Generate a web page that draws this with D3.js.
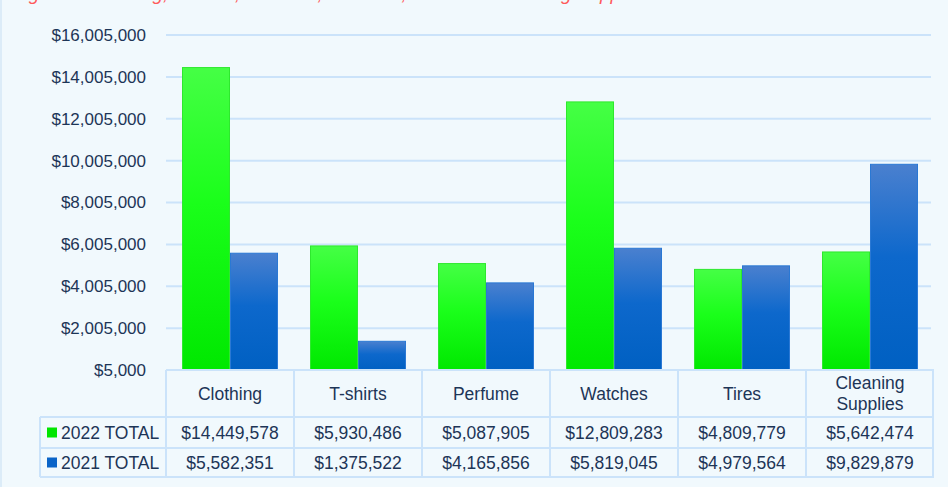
<!DOCTYPE html>
<html>
<head>
<meta charset="utf-8">
<script src="https://cdn.jsdelivr.net/npm/d3@7/dist/d3.min.js"></script>
<style>
  html, body { margin: 0; padding: 0; background: #f1f9fd; }
  svg { display: block; font-family: "Liberation Sans", Arial, sans-serif; }
</style>
</head>
<body>
<svg id="chart" width="948" height="487"></svg>
<script>
const categories = ["Clothing", "T-shirts", "Perfume", "Watches", "Tires", "Cleaning Supplies"];
const categoryLines = [["Clothing"], ["T-shirts"], ["Perfume"], ["Watches"], ["Tires"], ["Cleaning", "Supplies"]];
const seriesNames = ["2022 TOTAL", "2021 TOTAL"];
const values2022 = [14449578, 5930486, 5087905, 12809283, 4809779, 5642474];
const values2021 = [5582351, 1375522, 4165856, 5819045, 4979564, 9829879];
const tickValues = [5000, 2005000, 4005000, 6005000, 8005000, 10005000, 12005000, 14005000, 16005000];
const titleText = "Figure 1: Clothing, T-shirts, Perfume, Watches, Tires and Cleaning Supplies from 2022";

const svg = d3.select("#chart");
const W = 948, H = 487;
const plotTop = 35, plotBottom = 370, plotLeft = 166, plotRight = 934;
const textColor = "#1d3557";
const lineColor = "#cbe3fa";
const fs = 17.5;

svg.append("rect").attr("x", 0).attr("y", 0).attr("width", W).attr("height", H).attr("fill", "#f1f9fd");
svg.append("line").attr("x1", 1).attr("x2", 1).attr("y1", 0).attr("y2", H)
  .attr("stroke", "#dcecf8").attr("stroke-width", 2);

// title, clipped at the top edge as in the reference
svg.append("text").attr("x", 13).attr("y", 0)
  .attr("font-size", 19).attr("font-style", "italic").attr("fill", "#ff5a5a")
  .text(titleText);

const defs = svg.append("defs");
const g1 = defs.append("linearGradient").attr("id", "gGreen").attr("x1", 0).attr("x2", 0).attr("y1", 0).attr("y2", 1);
g1.append("stop").attr("offset", "0%").attr("stop-color", "#45ff45");
g1.append("stop").attr("offset", "45%").attr("stop-color", "#1aff1a");
g1.append("stop").attr("offset", "100%").attr("stop-color", "#00e800");
const g2 = defs.append("linearGradient").attr("id", "gBlue").attr("x1", 0).attr("x2", 0).attr("y1", 0).attr("y2", 1);
g2.append("stop").attr("offset", "0%").attr("stop-color", "#4a80cf");
g2.append("stop").attr("offset", "45%").attr("stop-color", "#0d68cc");
g2.append("stop").attr("offset", "100%").attr("stop-color", "#0060c2");

const y = d3.scaleLinear().domain([5000, 16005000]).range([plotBottom, plotTop]);
const x = d3.scaleBand().domain(categories).range([plotLeft, plotRight]).paddingInner(0).paddingOuter(0);
const xs = d3.scaleBand().domain(seriesNames).range([0, x.bandwidth()]).paddingInner(0).paddingOuter(1/3);

svg.append("g").selectAll("line").data(tickValues).join("line")
  .attr("x1", plotLeft).attr("x2", 931)
  .attr("y1", d => y(d)).attr("y2", d => y(d))
  .attr("stroke", lineColor).attr("stroke-width", 2);

const yAxis = d3.axisLeft(y).tickValues(tickValues).tickSize(0).tickPadding(0)
  .tickFormat(d3.format("$,"));
const ya = svg.append("g").attr("transform", "translate(146,0)").call(yAxis);
ya.select(".domain").remove();
ya.selectAll("text").attr("font-size", 17).attr("fill", textColor)
  .attr("font-family", "\"Liberation Sans\", Arial, sans-serif");

const series = [
  { name: seriesNames[0], values: values2022, fill: "url(#gGreen)", stroke: "#2ee82e" },
  { name: seriesNames[1], values: values2021, fill: "url(#gBlue)", stroke: "#2a78d4" }
];
series.forEach(s => {
  svg.append("g").selectAll("rect").data(categories).join("rect")
    .attr("x", (c) => x(c) + xs(s.name) + 0.5)
    .attr("width", xs.bandwidth() - 1)
    .attr("y", (c, i) => y(s.values[i]))
    .attr("height", (c, i) => plotBottom - y(s.values[i]))
    .attr("fill", s.fill).attr("stroke", s.stroke).attr("stroke-width", 1);
});

const rowTops = [370, 417, 448, 477];
const labelLeft = 40;
const tbl = svg.append("g");
tbl.append("line").attr("x1", plotLeft).attr("x2", plotRight).attr("y1", rowTops[0]).attr("y2", rowTops[0]);
[1, 2, 3].forEach(i => {
  tbl.append("line").attr("x1", labelLeft).attr("x2", plotRight).attr("y1", rowTops[i]).attr("y2", rowTops[i]);
});
tbl.append("line").attr("x1", labelLeft).attr("x2", labelLeft).attr("y1", rowTops[1]).attr("y2", rowTops[3]);
categories.forEach(c => {
  tbl.append("line").attr("x1", x(c)).attr("x2", x(c)).attr("y1", rowTops[0]).attr("y2", rowTops[3]);
});
tbl.append("line").attr("x1", plotRight - 1).attr("x2", plotRight - 1).attr("y1", rowTops[0]).attr("y2", rowTops[3]);
tbl.selectAll("line").attr("stroke", lineColor).attr("stroke-width", 2);

categories.forEach((c, i) => {
  const lines = categoryLines[i];
  const cx = x(c) + x.bandwidth() / 2;
  const mid = (rowTops[0] + rowTops[1]) / 2;
  const lh = 21;
  lines.forEach((ln, j) => {
    svg.append("text").attr("x", cx).attr("y", mid + (j - (lines.length - 1) / 2) * lh + 6)
      .attr("text-anchor", "middle").attr("font-size", fs).attr("fill", textColor).text(ln);
  });
});

const fmt = d3.format("$,");
series.forEach((s, r) => {
  const cy = (rowTops[r + 1] + rowTops[r + 2]) / 2 + 6;
  svg.append("rect").attr("x", 47).attr("y", cy - 11).attr("width", 10).attr("height", 10)
    .attr("fill", r === 0 ? "#00e600" : "#0a64c8");
  svg.append("text").attr("x", 61).attr("y", cy).attr("font-size", fs).attr("fill", textColor).text(s.name);
  categories.forEach((c, i) => {
    svg.append("text").attr("x", x(c) + x.bandwidth() / 2).attr("y", cy)
      .attr("text-anchor", "middle").attr("font-size", fs).attr("fill", textColor)
      .text(fmt(s.values[i]));
  });
});
</script>
</body>
</html>
